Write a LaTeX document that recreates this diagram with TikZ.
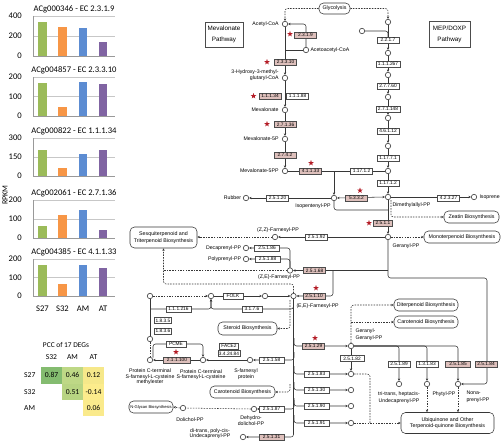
\documentclass[tikz,border=0pt]{standalone}
\usepackage{fontspec}
\setmainfont{Liberation Sans}
\newfontfamily\chartfont{Carlito}
\usetikzlibrary{arrows.meta,shapes.geometric,backgrounds}
\definecolor{pinkc}{RGB}{222,192,188}
\definecolor{starc}{RGB}{180,28,38}
\definecolor{linec}{RGB}{55,55,55}
\definecolor{cgreen}{RGB}{155,187,89}
\definecolor{corange}{RGB}{247,150,70}
\definecolor{cblue}{RGB}{92,140,210}
\definecolor{cpurple}{RGB}{128,100,162}
\definecolor{pgA}{RGB}{132,188,112}
\definecolor{pgB}{RGB}{190,216,134}
\definecolor{pgC}{RGB}{184,212,130}
\definecolor{pyA}{RGB}{246,232,138}
\definecolor{pyB}{RGB}{252,236,140}
\definecolor{pyC}{RGB}{250,234,140}
\newcommand\barchart[9]{%
  \draw[grid] (33,#2) -- (115,#2);
  \draw[grid] (33,{(#2+#3)/2}) -- (115,{(#2+#3)/2});
  \fill[cgreen] (38.3,#3) rectangle (46.7,#6);
  \fill[corange] (58.3,#3) rectangle (66.7,#7);
  \fill[cblue] (78.8,#3) rectangle (87.2,#8);
  \fill[cpurple] (98.8,#3) rectangle (107.2,#9);
  \draw[axis] (33,#2) -- (33,#3) -- (115,#3);
  \node[ctitle] (title#2) at (74,{#2-7}) {#1};
  \node[cnum,anchor=east] (ytop#2) at (22,#2) {#4};
  \node[cnum,anchor=east] (ymid#2) at (22,{(#2+#3)/2}) {#5};
  \node[cnum,anchor=east] (ybot#2) at (22,#3) {0};
}
\begin{document}
\begin{tikzpicture}[x=1pt,y=-1pt,
  ln/.style={draw=linec,line width=0.55pt},
  arr/.style={-{Stealth[length=2.6pt,width=2.3pt]}},
  barr/.style={{Stealth[length=2.6pt,width=2.3pt]}-{Stealth[length=2.6pt,width=2.3pt]}},
  dsh/.style={dash pattern=on 1.5pt off 1.2pt},
  rc/.style={rounded corners=2.5pt},
  enz/.style={rectangle,draw=black!70,fill=white,line width=0.45pt,font=\fontsize{4.8}{5}\selectfont,minimum width=22,minimum height=6.4,inner sep=0.3},
  enzp/.style={enz,fill=pinkc},
  cpd/.style={circle,draw=linec,fill=white,line width=0.6pt,minimum size=5.4,inner sep=0},
  lbl/.style={font=\fontsize{5.2}{6}\selectfont,inner sep=0.3,align=center},
  pbox/.style={rectangle,draw=linec,fill=white,rounded corners=4.5pt,line width=0.55pt,font=\fontsize{5.3}{6.4}\selectfont,align=center,inner sep=0},
  tbox/.style={rectangle,draw=black!70,fill=white,line width=0.5pt,font=\fontsize{6.3}{11}\selectfont,align=center,inner sep=0},
  starn/.style={star,star points=5,star point ratio=2.5,fill=starc,inner sep=0,minimum size=6},
  grid/.style={draw=black!22,line width=0.5pt},
  axis/.style={draw=black!40,line width=0.5pt},
  ctitle/.style={font=\chartfont\fontsize{8.6}{9}\selectfont,inner sep=0},
  cnum/.style={font=\chartfont\fontsize{8.6}{9}\selectfont,inner sep=0},
  cell/.style={font=\chartfont\fontsize{7.6}{8}\selectfont,inner sep=0},
]
\begin{scope}[on background layer]
\fill[white] (0,0) rectangle (502,444);
\end{scope}
\useasboundingbox (0,0) rectangle (502,444);

% ---------------- bar charts ----------------
\barchart{ACg000346 - EC 2.3.1.9}{16}{56}{400}{200}{22}{27}{28}{42}
\barchart{ACg004857 - EC 2.3.3.10}{77}{116}{200}{100}{83}{107}{82}{84}
\barchart{ACg000822 - EC 1.1.1.34}{138}{176}{300}{150}{150}{168}{154}{150}
\barchart{ACg002061 - EC 2.7.1.36}{200}{238}{200}{100}{226}{215}{210}{230}
\barchart{ACg004385 - EC 4.1.1.33}{259}{296}{200}{100}{265}{284}{265}{268}
\node[cnum] (xs27) at (42.5,309) {S27};
\node[cnum] (xs32) at (62.5,309) {S32};
\node[cnum] (xam) at (83,309) {AM};
\node[cnum] (xat) at (103,309) {AT};
\node[cnum,rotate=90,font=\chartfont\fontsize{8}{8}\selectfont] (rpkm) at (5,195) {RPKM};

% ---------------- PCC table ----------------
\fill[pgA] (41,367) rectangle (62,383.5);
\fill[pgB] (62,367) rectangle (83,383.5);
\fill[pyA] (83,367) rectangle (104,383.5);
\fill[pgC] (62,383.5) rectangle (83,400);
\fill[pyB] (83,383.5) rectangle (104,400);
\fill[pyC] (83,400) rectangle (104,416);
\node[cell,font=\chartfont\fontsize{7.4}{8}\selectfont] (pcct) at (66,345) {PCC of 17 DEGs};
\node[cell] (h1) at (51.5,357) {S32};
\node[cell] (h2) at (72.5,357) {AM};
\node[cell] (h3) at (93.5,357) {AT};
\node[cell,anchor=west] (r1) at (24,375) {S27};
\node[cell,anchor=west] (r2) at (24,392) {S32};
\node[cell,anchor=west] (r3) at (24,408) {AM};
\node[cell] (v1) at (51.5,375) {0.87};
\node[cell] (v2) at (72.5,375) {0.46};
\node[cell] (v3) at (93.5,375) {0.12};
\node[cell] (v4) at (72.5,392) {0.51};
\node[cell] (v5) at (93.5,392) {-0.14};
\node[cell] (v6) at (93.5,408) {0.06};

% ---------------- pathway boxes ----------------
\node[tbox,minimum width=38,minimum height=25] (mevbox) at (224,34.5) {Mevalonate\\Pathway};
\node[tbox,minimum width=41,minimum height=26] (mepbox) at (449.5,34) {MEP/DOXP\\Pathway};
\node[pbox,minimum width=31,minimum height=11] (glyc) at (334.5,8.5) {Glycolysis};
\node[pbox,minimum width=67,minimum height=21] (sesq) at (163.5,237.5) {Sesquiterpenoid and\\Triterpenoid Biosynthesis};
\node[pbox,minimum width=55,minimum height=12] (zeatin) at (471.5,217) {Zeatin Biosynthesis};
\node[pbox,minimum width=76,minimum height=12] (mono) at (462,237) {Monoterpenoid Biosynthesis};
\node[pbox,minimum width=59,minimum height=13] (steroid) at (247.5,328.5) {Steroid Biosynthesis};
\node[pbox,minimum width=65,minimum height=12] (carol) at (242.5,392) {Carotenoid Biosynthesis};
\node[pbox,minimum width=44,minimum height=12,font=\fontsize{4.1}{5}\selectfont] (nglyc) at (151,407) {N-Glycan Biosynthesis};
\node[pbox,minimum width=64,minimum height=12] (diter) at (426,305) {Diterpenoid Biosynthesis};
\node[pbox,minimum width=64,minimum height=12] (carot) at (426,322) {Carotenoid Biosynthesis};
\node[pbox,minimum width=93,minimum height=21] (ubiq) at (447.5,423) {Ubiquinone and Other\\Terpenoid-quinone Biosynthesis};

% ---------------- compounds ----------------
\node[cpd] (accoa) at (285,24) {};
\node[cpd] (acac) at (306,50) {};
\node[cpd] (hmg) at (285,78) {};
\node[cpd] (mev) at (285,110) {};
\node[cpd] (mevp) at (285,139) {};
\node[cpd] (mevpp) at (285,171) {};
\node[cpd] (ipp) at (334,198) {};
\node[cpd] (rubber) at (246,198) {};
\node[cpd] (mz) at (388,22) {};
\node[cpd] (gap) at (362,31) {};
\node[cpd] (ma) at (388,53) {};
\node[cpd] (mb) at (388,75) {};
\node[cpd] (mc) at (388,97) {};
\node[cpd] (md) at (388,118) {};
\node[cpd] (me) at (388,146) {};
\node[cpd] (mf) at (388,171) {};
\node[cpd] (dmapp) at (388,197) {};
\node[cpd] (isoprene) at (474,197) {};
\node[cpd] (gpp) at (388,237) {};
\node[cpd] (zzfpp) at (275,237) {};
\node[cpd] (deca) at (246,248) {};
\node[cpd] (poly) at (246,259) {};
\node[cpd] (zefpp) at (290,270.5) {};
\node[cpd] (eefpp) at (293.5,296) {};
\node[cpd] (fp) at (265,296) {};
\node[cpd] (fo) at (211,296) {};
\node[cpd] (fa) at (150,296) {};
\node[cpd] (pb) at (150,339) {};
\node[cpd] (pme) at (150,360) {};
\node[cpd] (pcy) at (203,360) {};
\node[cpd] (psp) at (250,360) {};
\node[cpd] (dold) at (254,409) {};
\node[cpd] (dolp) at (183,408) {};
\node[cpd] (undec) at (243,437) {};
\node[cpd] (ggpp) at (351,346) {};
\node[cpd] (hx) at (351,374) {};
\node[cpd] (cth) at (351,390) {};
\node[cpd] (cni) at (351,406) {};
\node[cpd] (cnj) at (351,423) {};
\node[cpd] (tri) at (399,384) {};
\node[cpd] (phy) at (427,384) {};
\node[cpd] (nona) at (458,384) {};

% ---------------- compound labels ----------------
\node[lbl,anchor=east] (laccoa) at (279,24) {Acetyl-CoA};
\node[lbl,anchor=west] (lacac) at (310,50) {Acetoacetyl-CoA};
\node[lbl,anchor=east,align=right,font=\fontsize{5.2}{6.3}\selectfont] (lhmg) at (279,75) {3-Hydroxy-3-methyl-\\glutaryl-CoA};
\node[lbl,anchor=east] (lmev) at (279,110) {Mevalonate};
\node[lbl,anchor=east] (lmevp) at (279,139) {Mevalonate-5P};
\node[lbl,anchor=east] (lmevpp) at (279,171) {Mevalonate-5PP};
\node[lbl] (lipp) at (313,206) {Isopentenyl-PP};
\node[lbl,anchor=east] (lrubber) at (241.5,198) {Rubber};
\node[lbl,anchor=west] (ldmapp) at (392,205) {Dimethylallyl-PP};
\node[lbl,anchor=west] (liso) at (479,197) {Isoprene};
\node[lbl,anchor=west] (lgpp) at (392,246) {Geranyl-PP};
\node[lbl] (lzz) at (278,230) {(Z,Z)-Farnesyl-PP};
\node[lbl,anchor=east] (ldeca) at (241.5,248) {Decaprenyl-PP};
\node[lbl,anchor=east] (lpoly) at (241.5,259) {Polyprenyl-PP};
\node[lbl] (lze) at (279,277.5) {(Z,E)-Farnesyl-PP};
\node[lbl,anchor=west] (lee) at (296,306) {(E,E)-Farnesyl-PP};
\node[lbl,font=\fontsize{5.2}{5.4}\selectfont] (lpme) at (150,377) {Protein C-terminal\\S-farnesyl-L-cysteine\\methylester};
\node[lbl,font=\fontsize{5.2}{5.4}\selectfont] (lpcy) at (201,374.5) {Protein C-terminal\\S-farnesyl-L-cysteine};
\node[lbl,font=\fontsize{5.2}{5.8}\selectfont] (lpsp) at (246,374.5) {S-farnesyl\\protein};
\node[lbl] (ldolp) at (190,419.5) {Dolichol-PP};
\node[lbl,font=\fontsize{5.2}{5.8}\selectfont] (ldold) at (251,421) {Dehydro-\\dolichol-PP};
\node[lbl,font=\fontsize{5.2}{5.6}\selectfont] (lundec) at (210,433.5) {di-trans, poly-cis-\\Undecaprenyl-PP};
\node[lbl,anchor=west,align=left,font=\fontsize{5.2}{6.6}\selectfont] (lggpp) at (355,334.5) {Geranyl-\\Geranyl-PP};
\node[lbl,font=\fontsize{5.2}{6.6}\selectfont] (ltri) at (399,397.5) {tri-trans, heptacis-\\Undecaprenyl-PP};
\node[lbl,anchor=west] (lphy) at (432,394) {Phytyl-PP};
\node[lbl,anchor=west,align=left,font=\fontsize{5.2}{6.6}\selectfont] (lnona) at (466,396.5) {Nona-\\prenyl-PP};

% ---------------- enzymes ----------------
\node[enzp] (e2319) at (305.5,35) {2.3.1.9};
\node[enzp] (e23310) at (285.5,62) {2.3.3.10};
\node[enzp] (e11134) at (270,96) {1.1.1.34};
\node[enz] (e11188) at (297.5,96) {1.1.1.88};
\node[enzp] (e27136) at (285.5,124.5) {2.7.1.36};
\node[enzp] (e2742) at (285,155) {2.7.4.2};
\node[enzp] (e41133) at (310.5,171) {4.1.1.33};
\node[enz] (e2217) at (388,40) {2.2.1.7};
\node[enz,minimum width=24] (e111267) at (388,64) {1.1.1.267};
\node[enz] (e27760) at (388,86) {2.7.7.60};
\node[enz,minimum width=24] (e271148) at (388,109) {2.7.1.148};
\node[enz] (e46112) at (388,131) {4.6.1.12};
\node[enz] (e11771) at (388,158) {1.17.7.1};
\node[enz] (e11712a) at (388,183) {1.17.1.2};
\node[enz] (e11712b) at (361.5,171) {1.17.1.2};
\node[enz] (e25120) at (277.5,198) {2.5.1.20};
\node[enzp] (e5332) at (356.5,198) {5.3.3.2};
\node[enz] (e42327) at (448.5,198) {4.2.3.27};
\node[enzp,minimum width=19] (e2511) at (383,223) {2.5.1.1};
\node[enz] (e25192) at (316.5,237) {2.5.1.92};
\node[enz,minimum width=25] (e25186) at (267,248) {2.5.1.86};
\node[enz,minimum width=25] (e25188) at (267.5,259) {2.5.1.88};
\node[enzp] (e25168) at (314.5,270.5) {2.5.1.68};
\node[enzp] (e25110) at (314,296) {2.5.1.10};
\node[enz,minimum width=20] (efolk) at (233,296) {FOLK};
\node[enz,minimum width=20] (e3176) at (252,309) {3.1.7.6};
\node[enz,minimum width=25] (e111216) at (178.5,309) {1.1.1.216};
\node[enz,minimum width=17] (e1835) at (163,320.5) {1.8.3.5};
\node[enz,minimum width=17] (e1836) at (163,331) {1.8.3.6};
\node[enz,minimum width=20] (epcme) at (176,344) {PCME};
\node[enzp,minimum width=27] (e211100) at (177,360) {2.1.1.100};
\node[enz,minimum width=19] (eface) at (229,346) {FACE2};
\node[enz,minimum width=22] (e342484) at (229,353.5) {3.4.24.84};
\node[enz,minimum width=25] (e25158) at (271.5,360) {2.5.1.58};
\node[enz,minimum width=25] (e25187) at (271.5,409) {2.5.1.87};
\node[enzp,minimum width=25] (e25131) at (271.5,437) {2.5.1.31};
\node[enzp] (e25129) at (313.5,346) {2.5.1.29};
\node[enz,minimum width=25] (e25183) at (316.5,374) {2.5.1.83};
\node[enz,minimum width=25] (e25130) at (316.5,390) {2.5.1.30};
\node[enz,minimum width=25] (e25190) at (316.5,406) {2.5.1.90};
\node[enz,minimum width=25] (e25191) at (316.5,423) {2.5.1.91};
\node[enz,minimum width=24] (e25182) at (352,358.5) {2.5.1.82};
\node[enz] (e25189) at (399,364) {2.5.1.89};
\node[enz] (e13183) at (427,364) {1.3.1.83};
\node[enzp,minimum width=25] (e25185) at (458,364) {2.5.1.85};
\node[enzp] (e25184) at (486,364) {2.5.1.84};

% ---------------- stars ----------------
\node[starn] (sa) at (290,34) {};
\node[starn] (sb) at (267,62) {};
\node[starn] (sc) at (253.5,96) {};
\node[starn] (sd) at (267,124) {};
\node[starn] (se) at (311,163) {};
\node[starn] (sf) at (360,190.5) {};
\node[starn] (sg) at (369,223) {};
\node[starn] (sh) at (316,288) {};
\node[starn] (si) at (315,338) {};
\node[starn] (sj) at (176,352) {};

% ---------------- connectors ----------------
\begin{scope}[on background layer]
\draw[ln,dsh,arr,rc] (glyc.west) -| (accoa.north);
\draw[ln,dsh,arr,rc] (glyc.east) -| (mz.north);
\draw[ln,arr,rc] (acac.north) |- (accoa.east);
\draw[ln] (acac.west) -- (hmg.north |- acac.west);
\draw[ln,arr] (accoa.south) -- (hmg.north);
\draw[ln,arr] (hmg.south) -- (mev.north);
\draw[ln,arr] (mev.south) -- (mevp.north);
\draw[ln,arr] (mevp.south) -- (mevpp.north);
\draw[ln] (mevpp.east) -- (mf.west);
\draw[ln,arr] (ipp.north |- mevpp.east) -- (ipp.north);
\draw[ln,rc] (gap.east) -| (388,44);
\draw[ln,arr] (mz.south) -- (ma.north);
\draw[ln,arr] (ma.south) -- (mb.north);
\draw[ln,arr] (mb.south) -- (mc.north);
\draw[ln,arr] (mc.south) -- (md.north);
\draw[ln,arr] (md.south) -- (me.north);
\draw[ln,arr] (me.south) -- (mf.north);
\draw[ln,arr] (mf.south) -- (dmapp.north);
\draw[ln,barr] (ipp.east) -- (dmapp.west);
\draw[ln,arr] (ipp.west) -- (rubber.east);
\draw[ln,rc] (ipp.south) |- (388,210);
\draw[ln,arr] (dmapp.south) -- (gpp.north);
\draw[ln,arr] (dmapp.east) -- (isoprene.west);
\draw[ln,dsh,arr,rc] (391,200) |- (zeatin.west);
\draw[ln,dsh,arr] (gpp.east) -- (mono.west);
\draw[ln,arr] (gpp.west) -- (zzfpp.east);
\draw[ln,dsh,arr] (zzfpp.west) -- (sesq.east |- zzfpp.west);
\draw[ln,arr,rc] (gpp.south) |- (487,278) |- (nona.east);
\draw[ln,arr] (gpp.south |- zefpp.east) -- (zefpp.east);
\draw[ln,arr,rc] (333,270.5) |- (eefpp.east);
\draw[ln,arr,rc] (zefpp.north) |- (deca.east);
\draw[ln,arr,rc] (zefpp.north) |- (poly.east);
\draw[ln,dsh] (zefpp.west) -- (163.5,270.5);
\draw[ln,dsh,arr,rc] (eefpp.north) |- (163.5,284) -- (sesq.south);
\draw[ln] (fo.east) -- (efolk.west);
\draw[ln,arr] (efolk.east) -- (fp.west);
\draw[ln,arr] (fp.east) -- (eefpp.west);
\draw[ln,dsh,arr] (fa.east) -- (fo.west);
\draw[ln,arr,rc] (eefpp.south) |- (250,309) -| (fo.south);
\draw[ln,arr,rc] (150,309) -| (fo.south);
\draw[ln] (pb.north) -- (fa.south);
\draw[ln,dsh] (pme.north) -- (pb.south);
\draw[ln,arr,rc] (153,357.5) |- (203,344) -- (pcy.north);
\draw[ln,arr] (pcy.west) -- (pme.east);
\draw[ln,arr] (psp.west) -- (pcy.east);
\draw[ln,arr,rc] (294,352) |- (psp.east);
\draw[ln,dsh,arr,rc] (290,300) |- (steroid.east);
\draw[ln,dsh,arr,rc] (290,384) |- (carol.east);
\draw[ln,arr,rc] (294,400) |- (dold.east);
\draw[ln,dsh] (dold.west) -- (dolp.east);
\draw[ln,dsh,arr] (dolp.west) -- (nglyc.east);
\draw[ln,arr,rc] (eefpp.south) |- (undec.east);
\draw[ln,arr,rc] (294,338) |- (ggpp.west);
\draw[ln,arr,rc] (294,366) |- (hx.west);
\draw[ln,arr,rc] (294,382) |- (cth.west);
\draw[ln,arr,rc] (294,398) |- (cni.west);
\draw[ln,arr,rc] (294,415) |- (cnj.west);
\draw[ln,arr] (ggpp.south) -- (hx.north);
\draw[ln,dsh,arr,rc] (ggpp.north) |- (diter.west);
\draw[ln,dsh,arr] (ggpp.north |- carot.west) -- (carot.west);
\draw[ln,arr,rc] (ggpp.east) -| (tri.north);
\draw[ln,arr,rc] (ggpp.east) -| (phy.north);
\draw[ln,arr,rc] (ggpp.east) -| (nona.north);
\draw[ln,dsh,arr] (phy.south) -- (phy.south |- ubiq.north);
\draw[ln,dsh,arr] (nona.south) -- (nona.south |- ubiq.north);
\draw[ln,dsh,rc] (hx.east) -| (370,423);
\draw[ln,dsh,arr] (cnj.east) -- (ubiq.west);
\end{scope}
\end{tikzpicture}
\end{document}
